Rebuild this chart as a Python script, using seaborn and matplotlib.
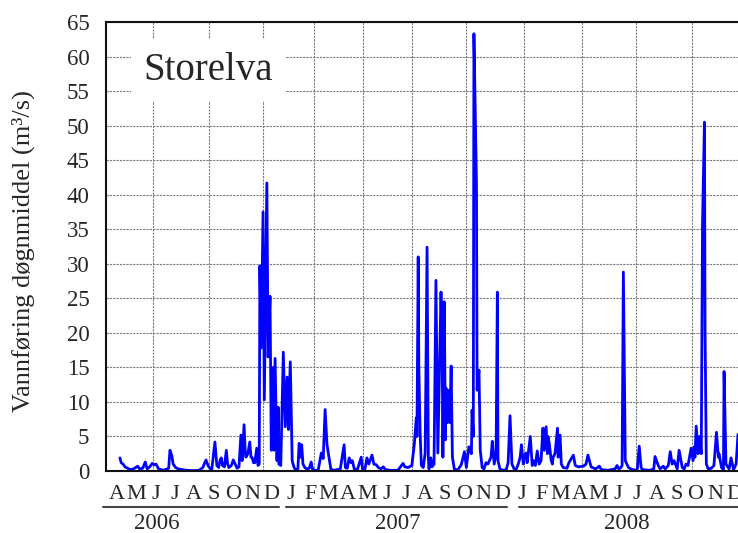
import numpy as np
import pandas as pd
import matplotlib
matplotlib.use("Agg")
import matplotlib.pyplot as plt
import matplotlib.dates as mdates
import seaborn as sns

# daily mean discharge (day = days since 2006-01-01)
start = pd.Timestamp("2006-01-01")
day = [
    109, 111, 114, 117, 123, 128, 132, 137, 140, 145, 149, 152, 156, 160, 163, 166, 170, 178,
    186, 188, 191, 193, 197, 201, 207, 215, 225, 234, 240, 242, 245, 248, 251, 254, 259, 262,
    265, 267, 269, 271, 274, 277, 279, 281, 285, 288, 291, 294, 297, 300, 302, 305, 307, 308,
    311, 314, 316, 318, 320, 322, 325, 327, 329, 330, 332, 335, 337, 341, 343, 346, 348, 351,
    352, 354, 357, 359, 360, 363, 367, 370, 373, 375, 378, 381, 384, 386, 390, 392, 394, 396,
    398, 401, 404, 408, 411, 413, 417, 422, 427, 430, 433, 436, 439, 442, 446, 452, 457, 463,
    465, 468, 471, 474, 476, 479, 484, 490, 492, 496, 499, 502, 507, 510, 514, 517, 521, 525,
    528, 536, 548, 556, 559, 564, 570, 574, 577, 578, 580, 581, 583, 585, 588, 591, 594, 596,
    597, 600, 602, 605, 608, 611, 615, 616, 618, 619, 621, 622, 623, 624, 626, 629, 630, 632,
    634, 637, 642, 648, 653, 656, 660, 664, 665, 667, 668, 672, 673, 676, 678, 681, 684, 687,
    690, 695, 697, 700, 703, 705, 706, 709, 714, 719, 722, 725, 728, 732, 735, 738, 741, 743,
    746, 747, 750, 752, 755, 757, 760, 762, 765, 768, 771, 774, 777, 779, 782, 784, 785, 787,
    790, 792, 793, 796, 800, 801, 804, 806, 809, 815, 818, 825, 828, 833, 841, 845, 848, 853,
    860, 866, 869, 880, 891, 894, 897, 900, 902, 904, 907, 912, 918, 924, 926, 929, 932, 934,
    946, 952, 954, 959, 962, 967, 970, 975, 978, 981, 984, 989, 992, 997, 1000, 1003, 1006, 1011,
    1014, 1016, 1017, 1019, 1022, 1024, 1027, 1029, 1032, 1033, 1035, 1038, 1043, 1047, 1051, 1054,
    1055, 1059, 1062, 1063, 1066, 1071, 1074, 1078, 1082, 1085,
]
flow = [
    1.9, 1.2, 1.0, 0.6, 0.3, 0.2, 0.4, 0.7, 0.3, 0.4, 1.3, 0.3, 0.6, 1.1, 0.9, 1.0, 0.3, 0.1,
    0.4, 3.0, 2.2, 1.0, 0.5, 0.3, 0.2, 0.1, 0.05, 0.1, 0.5, 1.0, 1.6, 0.8, 0.4, 0.2, 4.2, 0.8,
    0.5, 1.5, 1.9, 0.8, 0.6, 3.0, 1.0, 0.5, 0.8, 1.6, 1.0, 0.4, 0.6, 5.2, 1.5, 6.7, 2.5, 2.0,
    2.5, 4.2, 2.0, 1.9, 1.2, 1.2, 3.3, 0.8, 1.0, 29.7, 17.8, 37.5, 10.3, 41.7, 16.5, 25.3, 3.0, 15.0,
    3.0, 16.3, 1.5, 9.2, 1.0, 0.8, 17.2, 6.4, 13.6, 6.0, 15.8, 1.5, 0.5, 0.2, 0.3, 4.0, 2.0, 3.8,
    1.0, 0.5, 0.3, 0.4, 1.3, 0.3, 0.1, 0.1, 2.6, 1.8, 8.9, 3.8, 2.0, 0.3, 0.1, 0.2, 0.3, 3.8,
    0.5, 0.4, 1.9, 1.2, 1.5, 0.3, 0.2, 2.0, 0.3, 0.3, 1.9, 1.0, 2.3, 1.0, 0.9, 0.5, 0.3, 0.6,
    0.2, 0.1, 0.1, 1.1, 0.6, 0.5, 0.8, 4.0, 7.7, 5.0, 31.0, 15.0, 5.6, 0.8, 0.5, 2.6, 32.4, 2.0,
    0.3, 1.9, 0.6, 1.0, 27.6, 2.6, 21.9, 25.9, 16.5, 2.0, 24.5, 15.6, 4.5, 12.0, 7.0, 11.7, 7.0, 15.2,
    2.0, 0.3, 0.1, 0.9, 2.8, 0.5, 3.5, 2.5, 8.8, 5.0, 63.3, 41.7, 11.7, 14.6, 3.0, 0.5, 0.3, 1.2,
    1.0, 2.0, 4.3, 1.0, 2.6, 25.9, 1.5, 0.3, 0.1, 0.2, 1.2, 8.0, 1.0, 0.2, 0.3, 1.0, 2.0, 3.8,
    1.0, 2.0, 2.6, 1.2, 3.5, 5.0, 0.8, 1.5, 0.8, 2.9, 1.0, 1.5, 6.2, 3.0, 6.4, 2.5, 5.0, 4.0,
    1.5, 1.0, 2.0, 2.5, 6.2, 2.0, 5.2, 1.0, 0.5, 0.4, 1.2, 2.3, 0.8, 0.6, 0.7, 1.0, 2.3, 0.6,
    0.3, 0.7, 0.2, 0.1, 0.3, 0.8, 0.3, 0.5, 0.8, 28.8, 1.5, 0.5, 0.2, 0.1, 0.3, 3.6, 0.5, 0.2,
    0.1, 0.3, 2.1, 0.8, 0.3, 0.7, 0.3, 0.8, 2.8, 1.0, 1.5, 0.3, 3.0, 0.5, 0.3, 1.0, 0.8, 3.3,
    1.5, 3.5, 2.0, 6.5, 2.5, 5.0, 2.5, 36.0, 50.5, 20.0, 1.0, 0.3, 0.4, 0.8, 5.6, 2.0,
    2.5, 0.5, 0.2, 14.4, 1.0, 0.3, 1.9, 0.2, 1.0, 5.3,
]

month_letters = list("AMJJASOND") + list("JFMAMJJASOND") * 2
years = ["2006", "2007", "2008"]
year_label_day = [167, 548, 910]
year_line_days = [(82, 360), (371, 720), (739, 1095)]
grid_days = [161, 250, 335, 416, 493, 570, 656, 747, 839, 924, 1013]

sns.set_style("white")
plt.rcParams["font.family"] = ["Liberation Serif", "DejaVu Serif"]

dates = start + pd.to_timedelta(day, unit="D")
df = pd.DataFrame({"dato": dates, "q": flow})

fig = plt.figure(figsize=(7.38, 5.33), dpi=100)
ax = fig.add_axes([106 / 738, 62 / 533, 632 / 738, 449 / 533])

sns.lineplot(data=df, x="dato", y="q", ax=ax, color="#0000ff", lw=2,
             estimator=None, sort=False)

def dnum(d):
    return mdates.date2num(start + pd.Timedelta(days=d))

ax.set_xlim(dnum(87), dnum(1085))
ax.set_ylim(0, 65)
ax.set_yticks(np.arange(0, 66, 5))

# gridlines on major ticks, month letters on minor ticks
ax.set_xticks([dnum(d) for d in grid_days])
ax.set_xticklabels([])
mid_months = pd.date_range("2006-04-01", periods=len(month_letters), freq="MS") + pd.Timedelta(days=14)
ax.set_xticks(mdates.date2num(mid_months), minor=True)
ax.set_xticklabels(month_letters, minor=True)

ax.grid(True, which="major", color="#7a7a7a", lw=0.8, ls=(0, (2, 1)))
ax.tick_params(axis="x", which="both", length=0)
ax.tick_params(axis="x", which="minor", pad=10, labelsize=16)
ax.tick_params(axis="y", length=0, pad=12, labelsize=16.5)

for side in ["left", "bottom", "top"]:
    ax.spines[side].set_color("#111111")
    ax.spines[side].set_linewidth(1.5)
ax.spines["right"].set_visible(False)

ax.set_xlabel("")
ax.set_ylabel("Vannføring døgnmiddel (m³/s)", fontsize=19)
ax.yaxis.set_label_coords(-0.113, 0.49)

trans = ax.get_xaxis_transform()
for yr, xd, (d0, d1) in zip(years, year_label_day, year_line_days):
    ax.plot([dnum(d0), dnum(d1)], [-0.080, -0.080], transform=trans, clip_on=False,
            color="#444444", lw=1.5)
    ax.text(dnum(xd), -0.117, yr, transform=trans, ha="center", va="center", fontsize=16.5)

ax.text(0.161, 0.893, "Storelva", transform=ax.transAxes, ha="center", va="center",
        fontsize=28, bbox=dict(facecolor="white", edgecolor="none", pad=9))

fig.savefig("out.png", dpi=100)
